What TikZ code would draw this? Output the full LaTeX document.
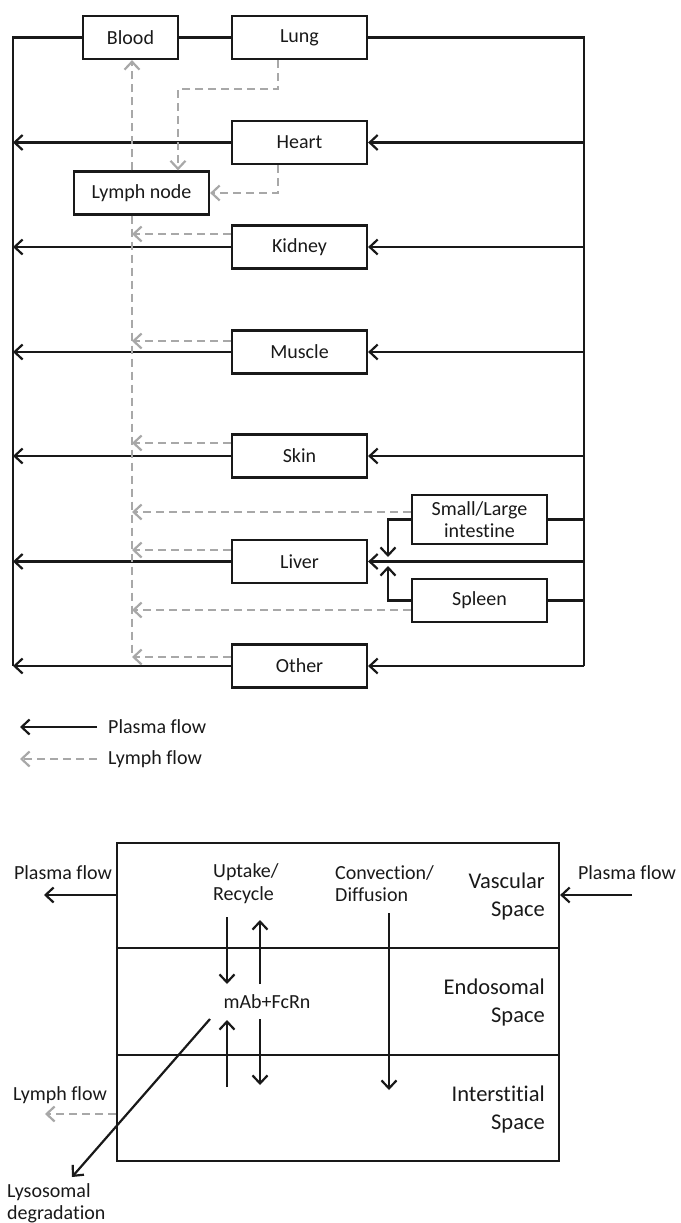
\documentclass[tikz,border=0pt]{standalone}
\usepackage{fontspec}
\setmainfont{Carlito}[Ligatures={NoCommon}]
\usetikzlibrary{arrows.meta,calc}
\definecolor{lgray}{RGB}{168,168,168}
\definecolor{ink}{RGB}{25,25,25}
\begin{document}
\begin{tikzpicture}[x=1pt,y=-1pt,
  box/.style={draw=ink, line width=2.2pt, minimum width=135pt, minimum height=43pt, inner sep=0pt, text=ink, font=\fontsize{20}{24}\selectfont},
  tip/.style={-{Straight Barb[length=8pt,width=15pt,line width=2.2pt]}},
  ln/.style={draw=ink, line width=2.2pt},
  pl/.style={ln, tip},
  lyl/.style={draw=lgray, line width=2.2pt, dash pattern=on 8pt off 5pt},
  ly/.style={lyl, tip},
  txt/.style={font=\fontsize{20}{22.5}\selectfont, text=ink, inner sep=0pt},
  big/.style={font=\fontsize{22.5}{28}\selectfont, text=ink, inner sep=0pt, align=right, anchor=east}
]
\useasboundingbox (0,0) rectangle (680,1223);

% ---------- organ boxes ----------
\node[box, minimum width=95pt] (blood) at (130.5,37.5) {Blood};
\node[box] (lung)   at (299.5,37.5) {Lung};
\node[box] (heart)  at (299.5,142.5) {Heart};
\node[box] (lymph)  at (141.5,193) {Lymph node};
\node[box] (kidney) at (299.5,247) {Kidney};
\node[box] (muscle) at (299.5,352) {Muscle};
\node[box] (skin)   at (299.5,456) {Skin};
\node[box, minimum height=49pt, align=center, font=\fontsize{20}{22}\selectfont] (intest) at (479.5,519.5) {Small/Large\\intestine};
\node[box] (liver)  at (299.5,561.5) {Liver};
\node[box] (spleen) at (479.5,600.5) {Spleen};
\node[box] (other)  at (299.5,666) {Other};

% rails
\coordinate (L) at (13,0);
\coordinate (R) at (584,0);
\coordinate (LV) at (132,0);

\draw[ln] (blood.west) -| (other.west -| L);
\draw[ln] (blood.east) -- (lung.west);
\draw[ln] (lung.east) -| (other.east -| R);

\foreach \n in {heart,kidney,muscle,skin,liver,other}{
  \draw[pl] (\n.west) -- (\n.west -| L);
  \draw[pl] (\n.east -| R) -- (\n.east);
}
\draw[ln] (intest.east -| R) -- (intest.east);
\draw[ln] (spleen.east -| R) -- (spleen.east);
\coordinate (jt) at (388,557);
\coordinate (jb) at (388,566);
\draw[pl] (intest.west) -| (jt);
\draw[pl] (spleen.west) -| (jb);

% lymph flow
\draw[ly] ([xshift=-21.5pt]lung.south) -- ++(0,29) -| ([xshift=36.5pt]lymph.north);
\draw[ly] ([xshift=-21.5pt]heart.south) |- (lymph.east);
\draw[ly] (lymph.north -| LV) -- (blood.south -| LV);
\coordinate (LVb) at (132,657);
\draw[lyl] (lymph.south -| LV) -- (LVb);

\path ($(kidney.west)+(0,-13)$) coordinate (dk)
      ($(muscle.west)+(0,-11)$) coordinate (dm)
      ($(skin.west)+(0,-13)$) coordinate (ds)
      ($(intest.west)+(0,-7.5)$) coordinate (di)
      ($(liver.west)+(0,-11.5)$) coordinate (dl)
      ($(spleen.west)+(0,9.5)$) coordinate (dp)
      ($(other.west)+(0,-9)$) coordinate (do);
\foreach \c in {dk,dm,ds,di,dl,dp,do}{
  \draw[ly] (\c) -- (\c -| LV);
}

% legend
\node[txt, anchor=west] (plab) at (108,727) {Plasma flow};
\node[txt, anchor=west] (llab) at (108,759) {Lymph flow};
\draw[pl] ([xshift=-11pt]plab.west) -- ++(-77,0);
\draw[ly] ([xshift=-11pt]llab.west) -- ++(-77,0);

% ---------- compartment model ----------
\node[draw=ink, line width=2.2pt, minimum width=442pt, minimum height=318pt, inner sep=0pt] (cell) at (338,1002) {};
\coordinate (s1) at (0,948);
\coordinate (s2) at (0,1055);
\draw[ln] (cell.west |- s1) -- (cell.east |- s1);
\draw[ln] (cell.west |- s2) -- (cell.east |- s2);

\node[txt] (plL) at (63,873) {Plasma flow};
\node[txt] (plR) at (627,873) {Plasma flow};
\coordinate (pa) at (44,895);
\coordinate (pb) at (632,895);
\draw[pl] (cell.west |- pa) -- (pa);
\draw[pl] (pb) -- (pb -| cell.east);

\node[txt, anchor=west, align=left] (upt) at (213,883.5) {Uptake/\\Recycle};
\node[txt, anchor=west, align=left] (conv) at (335,883.5) {Convection/\\Diffusion};
\node[big] (vasc) at (545,896) {Vascular\\Space};
\node[big] (endo) at (545,1002.5) {Endosomal\\Space};
\node[big] (inter) at (545,1109) {Interstitial\\Space};
\node[txt] (mab) at (267,1002) {mAb+FcRn};

\coordinate (a1) at (227,917);  \coordinate (a2) at (227,984);
\coordinate (b1) at (260,984);  \coordinate (b2) at (260,920);
\coordinate (c1) at (227,1087); \coordinate (c2) at (227,1020);
\coordinate (d1) at (260,1019); \coordinate (d2) at (260,1085);
\coordinate (e1) at (389,913);  \coordinate (e2) at (389,1090);
\draw[pl] (a1) -- (a2);
\draw[pl] (b1) -- (b2);
\draw[pl] (c1) -- (c2);
\draw[pl] (d1) -- (d2);
\draw[pl] (e1) -- (e2);

\node[txt] (lyL) at (60,1095) {Lymph flow};
\coordinate (la) at (45,1114);
\draw[ly] (cell.west |- la) -- (la);

\node[txt, anchor=west, align=left, font=\fontsize{20}{22}\selectfont] (lyso) at (7,1203) {Lysosomal\\degradation};
\coordinate (g1) at (210,1019);
\coordinate (g2) at (72,1177);
\draw[pl] (g1) -- (g2);
\end{tikzpicture}
\end{document}
